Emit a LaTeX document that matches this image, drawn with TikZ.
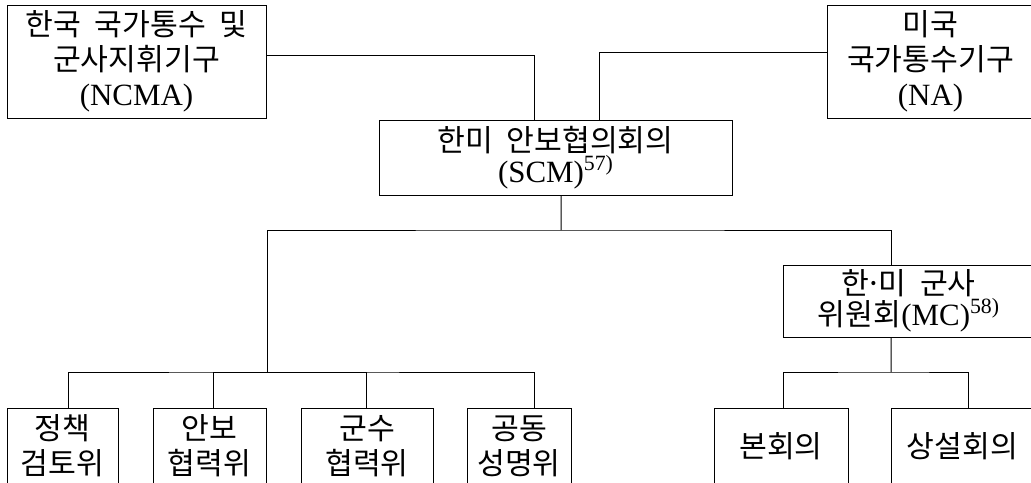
\documentclass[tikz,border=0pt]{standalone}
\usepackage{fontspec}
\setmainfont{Liberation Serif}
\newfontfamily\kr[WordSpace=2]{Noto Sans CJK KR}
\usepackage{tikz}
\usetikzlibrary{positioning}
\newcommand{\lat}[1]{{\rmfamily\fontsize{22}{22}\selectfont #1}}
\newcommand{\fnum}[1]{\raisebox{0.4em}{\fontsize{15.5}{15.5}\selectfont\rmfamily #1}}

\begin{document}
\begin{tikzpicture}[x=0.25mm,y=-0.25mm,line width=0.7pt]

	\tikzstyle{box}=[draw=black,rectangle,inner sep=0pt,align=center,font=\kr\fontsize{21.5}{25}\selectfont]
	\tikzstyle{tight}=[font=\kr\fontsize{21.5}{21}\selectfont]

	\useasboundingbox (0,0) rectangle (1031,482);
	\clip (0,0) rectangle (1031,482);

	% top row
	\node[box,minimum width=64.75mm,minimum height=28.25mm] (ncma) at (136.5,61.5) {한국 국가통수 및\\군사지휘기구\\\lat{(NCMA)}};
	\node[box,minimum width=51.75mm,minimum height=28.25mm] (na) at (930.5,61.5) {미국\\국가통수기구\\\lat{(NA)}};
	\node[box,tight,minimum width=88.25mm,minimum height=18.75mm] (scm) at (555.5,158) {한미 안보협의회의\\\lat{(SCM)}\fnum{57)}};

	% middle
	\node[box,tight,minimum width=62.75mm,minimum height=18mm] (mc) at (908.5,301) {한\kern-0.12em·\kern-0.12em미 군사\\위원회\lat{(MC)}\fnum{58)}};

	% bottom row
	\node[box,minimum width=27.75mm,minimum height=19mm] (pol) at (62.5,446) {정책\\검토위};
	\node[box,minimum width=28.25mm,minimum height=19mm] (sec) at (209.5,446) {안보\\협력위};
	\node[box,minimum width=33mm,minimum height=19mm] (log) at (367,446) {군수\\협력위};
	\node[box,minimum width=26mm,minimum height=19mm] (jnt) at (519,446) {공동\\성명위};
	\node[box,minimum width=33.5mm,minimum height=19mm] (plen) at (781,446) {본회의};
	\node[box,minimum width=35.75mm,minimum height=19mm] (perm) at (962.5,446) {상설회의};

	\coordinate (busU) at (561,230);
	\coordinate (busL) at (267,372);
	\coordinate (busR) at (891,372);

	\draw ([yshift=1.625mm]ncma.east) -| ([xshift=-5.375mm]scm.north);
	\draw ([yshift=2.375mm]na.west) -| ([xshift=10.875mm]scm.north);
	\draw ([xshift=1.375mm]scm.south) -- (busU);
	\draw (busL) |- (busU) -| ([xshift=-4.375mm]mc.north);
	\draw ([xshift=1.375mm]pol.north) |- (busL) -| ([xshift=3.75mm]jnt.north);
	\draw ([xshift=0.875mm]sec.north) |- (busL);
	\draw ([xshift=-0.25mm]log.north) |- (busL);
	\draw ([xshift=-4.375mm]mc.south) -- (busR);
	\draw ([xshift=0.5mm]plen.north) |- (busR) -| ([xshift=1.375mm]perm.north);
\end{tikzpicture}
\end{document}
